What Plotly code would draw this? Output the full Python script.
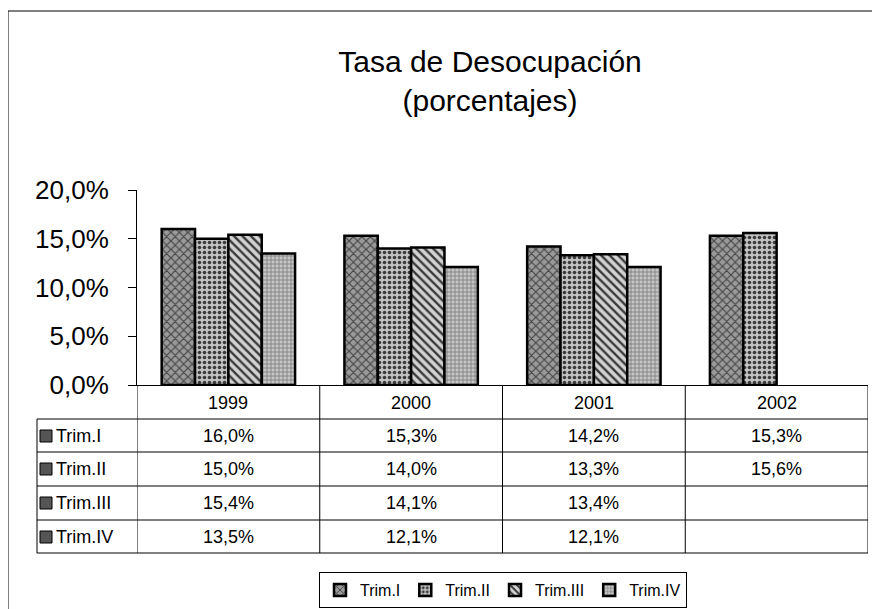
import plotly.graph_objects as go

years = ["1999", "2000", "2001", "2002"]
series_names = ["Trim.I", "Trim.II", "Trim.III", "Trim.IV"]
trim_1 = [16.0, 15.3, 14.2, 15.3]
trim_2 = [15.0, 14.0, 13.3, 15.6]
trim_3 = [15.4, 14.1, 13.4, None]
trim_4 = [13.5, 12.1, 12.1, None]
y_tick_vals = [0, 5, 10, 15, 20]
y_tick_text = ["0,0%", "5,0%", "10,0%", "15,0%", "20,0%"]

series_values = [trim_1, trim_2, trim_3, trim_4]
styles = [
    dict(shape="x", bg="#9a9a9a", fg="#454545", size=6, solidity=0.35),
    dict(shape=".", bg="#c2c2c2", fg="#3a3a3a", size=5, solidity=0.4),
    dict(shape="\\", bg="#d2d2d2", fg="#3a3a3a", size=6, solidity=0.4),
    dict(shape="+", bg="#c6c6c6", fg="#767676", size=4, solidity=0.35),
]

FONT = "Liberation Sans, Arial, sans-serif"
W, H = 880, 609
OFF = 8  # page body offset in the browser
L, R, T, B = 137, 868, 190, 385  # plot area in screen pixels


def px(p):
    return (p - L) / (R - L)


def py(p):
    return (B - p) / (B - T)


fig = go.Figure()
for name, vals, st in zip(series_names, series_values, styles):
    fig.add_trace(go.Bar(
        x=years, y=vals, name=name,
        marker=dict(
            color=st["bg"],
            line=dict(color="black", width=2.5),
            pattern=dict(shape=st["shape"], bgcolor=st["bg"], fgcolor=st["fg"],
                         size=st["size"], solidity=st["solidity"], fillmode="replace"),
        ),
        hoverinfo="skip",
    ))

shapes = []
annotations = []

row_lines = [419, 452, 486, 520, 553]
row_centers = [436, 469, 503, 537]
header_center = 403

for yl in row_lines:
    shapes.append(dict(type="line", xref="paper", yref="paper",
                       x0=px(37), x1=1, y0=py(yl), y1=py(yl),
                       line=dict(color="black", width=1)))
for k in range(len(years) + 1):
    shapes.append(dict(type="line", xref="x", yref="paper",
                       x0=k - 0.5, x1=k - 0.5, y0=0, y1=py(553),
                       line=dict(color="black", width=1)))
shapes.append(dict(type="line", xref="paper", yref="paper",
                   x0=px(37), x1=px(37), y0=py(419), y1=py(553),
                   line=dict(color="black", width=1)))

for j, yr in enumerate(years):
    annotations.append(dict(x=j, xref="x", y=py(header_center), yref="paper",
                            text=yr, showarrow=False, xanchor="center", yanchor="middle",
                            font=dict(family=FONT, size=18, color="black")))

for i, (name, vals, st) in enumerate(zip(series_names, series_values, styles)):
    yc = row_centers[i]
    shapes.append(dict(type="rect", xref="paper", yref="paper",
                       x0=px(40), x1=px(52), y0=py(yc - 6), y1=py(yc + 6),
                       fillcolor="#555555", line=dict(color="black", width=1)))
    annotations.append(dict(x=px(54), xref="paper", y=py(yc), yref="paper",
                            text=name, showarrow=False, xanchor="left", yanchor="middle",
                            font=dict(family=FONT, size=18, color="black")))
    for j, v in enumerate(vals):
        if v is None:
            continue
        annotations.append(dict(x=j, xref="x", y=py(yc), yref="paper",
                                text=f"{v:.1f}%".replace(".", ","), showarrow=False,
                                xanchor="center", yanchor="middle",
                                font=dict(family=FONT, size=18, color="black")))

# outer chart frame
shapes.append(dict(type="rect", xref="paper", yref="paper",
                   x0=px(8), x1=px(900), y0=py(11), y1=py(640),
                   line=dict(color="black", width=1), fillcolor="rgba(0,0,0,0)"))

fig.update_layout(
    template="none",
    width=W, height=H,
    margin=dict(l=L - OFF, r=W - (R - OFF), t=T - OFF, b=H - (B - OFF), pad=0, autoexpand=False),
    paper_bgcolor="white", plot_bgcolor="white",
    barmode="group", bargap=0.27, bargroupgap=0,
    title=dict(text="Tasa de Desocupación<br>(porcentajes)",
               x=px(490), xref="paper", xanchor="center",
               y=1 - (72 - OFF) / H, yref="container", yanchor="middle",
               font=dict(family=FONT, size=30, color="black")),
    xaxis=dict(type="category", range=[-0.5, 3.5], showticklabels=False,
               showline=True, linecolor="black", linewidth=1, ticks="",
               showgrid=False, zeroline=False, automargin=False),
    yaxis=dict(range=[0, 20], tickvals=y_tick_vals, ticktext=y_tick_text,
               showline=True, linecolor="black", linewidth=1,
               ticks="outside", ticklen=8, tickcolor="black",
               ticklabelstandoff=14, automargin=False,
               showgrid=False, zeroline=False,
               tickfont=dict(family=FONT, size=26, color="black")),
    legend=dict(orientation="h", x=px(503), xref="paper", xanchor="center",
                y=1 - (572 - OFF) / H, yref="container", yanchor="top",
                bordercolor="black", borderwidth=1, bgcolor="white",
                font=dict(family=FONT, size=16, color="black"),
                itemwidth=30, tracegroupgap=0),
    shapes=shapes,
    annotations=annotations,
    showlegend=True,
)

fig.write_html("out.html")
